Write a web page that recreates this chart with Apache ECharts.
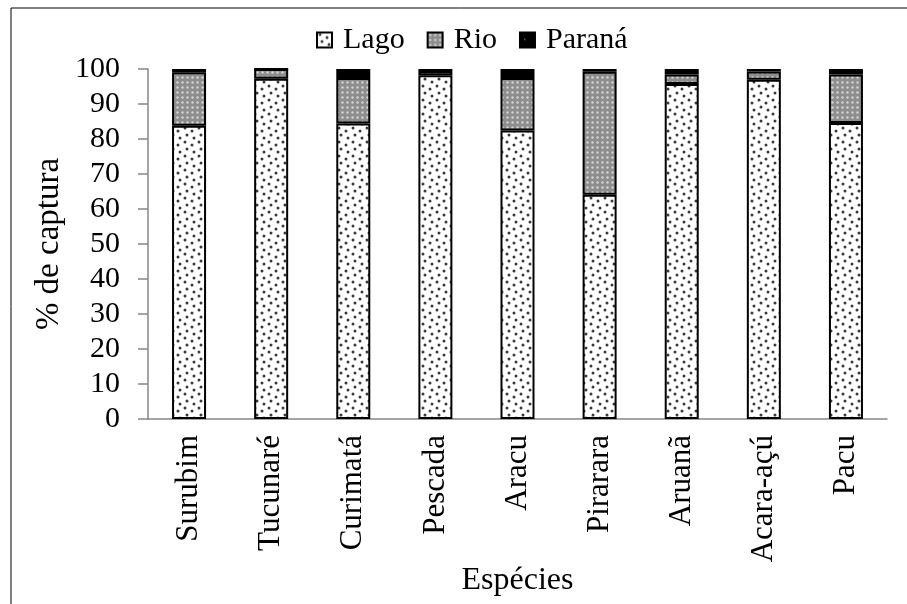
<!DOCTYPE html>
<html>
<head>
<meta charset="utf-8">
<script src="https://cdn.jsdelivr.net/npm/echarts@6/dist/echarts.min.js"></script>
<style>
html,body{margin:0;padding:0;background:#fff;}
#main{width:907px;height:604px;}
</style>
</head>
<body>
<div id="main"></div>
<script>
var categories = ['Surubim','Tucunaré','Curimatá','Pescada','Aracu','Pirarara','Aruanã','Acara-açú','Pacu'];
var lago   = [83.8, 97.2, 84.4, 98.2, 82.4, 64.1, 95.7, 96.9, 84.6];
var rio    = [15.3,  2.8, 13.0,  1.2, 15.0, 35.1,  2.7,  2.4, 13.8];
var parana = [ 0.9,  0.0,  2.6,  0.6,  2.6,  0.8,  1.6,  0.7,  1.6];
var yTicks = [0,10,20,30,40,50,60,70,80,90,100];

function makePattern(kind){
  var c = document.createElement('canvas');
  var ctx = c.getContext('2d');
  if(kind==='lago'){
    c.width=14;c.height=14;
    ctx.fillStyle='#ffffff';ctx.fillRect(0,0,14,14);
    ctx.fillStyle='#3a3a3a';
    var pts=[[3,2],[10,5],[5,9],[12,12]];
    pts.forEach(function(p){ctx.beginPath();ctx.arc(p[0],p[1],1.5,0,Math.PI*2);ctx.fill();});
  } else if(kind==='rio'){
    c.width=5;c.height=5;
    ctx.fillStyle='#8e8e8e';ctx.fillRect(0,0,5,5);
    ctx.fillStyle='#d4d4d4';
    ctx.beginPath();ctx.arc(2.5,2.5,1.2,0,Math.PI*2);ctx.fill();
  } else {
    c.width=20;c.height=20;
    ctx.fillStyle='#000000';ctx.fillRect(0,0,20,20);
    ctx.fillStyle='#666666';
    ctx.fillRect(4,6,1.5,1.5);
  }
  return {image:c, repeat:'repeat'};
}

var font = "Liberation Serif";
var chart = echarts.init(document.getElementById('main'), null, {renderer:'canvas'});

function mkSeries(name, data, kind){
  return {
    name:name, type:'bar', stack:'t', data:data, barWidth:34,
    itemStyle:{color:makePattern(kind), borderColor:'#000', borderWidth:2},
    emphasis:{disabled:true}
  };
}

chart.setOption({
  animation:false,
  backgroundColor:'#fff',
  textStyle:{fontFamily:font, color:'#000'},
  graphic:[{type:'rect', shape:{x:11,y:8,width:1000,height:1000}, style:{fill:'none', stroke:'#000', lineWidth:1}, silent:true}],
  legend:{
    top:20, left:311, itemWidth:15, itemHeight:15, itemGap:22,
    icon:'rect',
    formatter:function(n){return '{s|'+n+'}';},
    textStyle:{fontFamily:font, fontSize:30, color:'#000', padding:[0,0,0,6],
      rich:{s:{fontFamily:font, fontSize:30, color:'#000'}}},
    data:['Lago','Rio','Paraná']
  },
  grid:{left:148, right:20, top:69, bottom:185, containLabel:false, outerBoundsMode:'none'},
  xAxis:{
    type:'category', data:categories,
    name:'Espécies', nameLocation:'middle', nameGap:146, nameMoveOverlap:false,
    nameTextStyle:{fontFamily:font, fontSize:32, color:'#000'},
    axisLine:{lineStyle:{color:'#868686', width:1.5}},
    axisTick:{length:9, lineStyle:{color:'#868686', width:1.5}},
    axisLabel:{rotate:90, margin:16, fontFamily:font, fontSize:31, color:'#000'}
  },
  yAxis:{
    type:'value', min:0, max:100, interval:10,
    name:'% de captura', nameLocation:'middle', nameGap:82, nameMoveOverlap:false,
    nameTextStyle:{fontFamily:font, fontSize:33, color:'#000'},
    axisLine:{show:true, lineStyle:{color:'#868686', width:1.5}},
    axisTick:{show:true, length:10, lineStyle:{color:'#868686', width:1.5}},
    splitLine:{show:false},
    axisLabel:{margin:28, fontFamily:font, fontSize:30, color:'#000',
      formatter:function(v){return yTicks.indexOf(v)>=0? String(v):'';}}
  },
  series:[mkSeries('Lago',lago,'lago'), mkSeries('Rio',rio,'rio'), mkSeries('Paraná',parana,'parana')]
});
</script>
</body>
</html>
